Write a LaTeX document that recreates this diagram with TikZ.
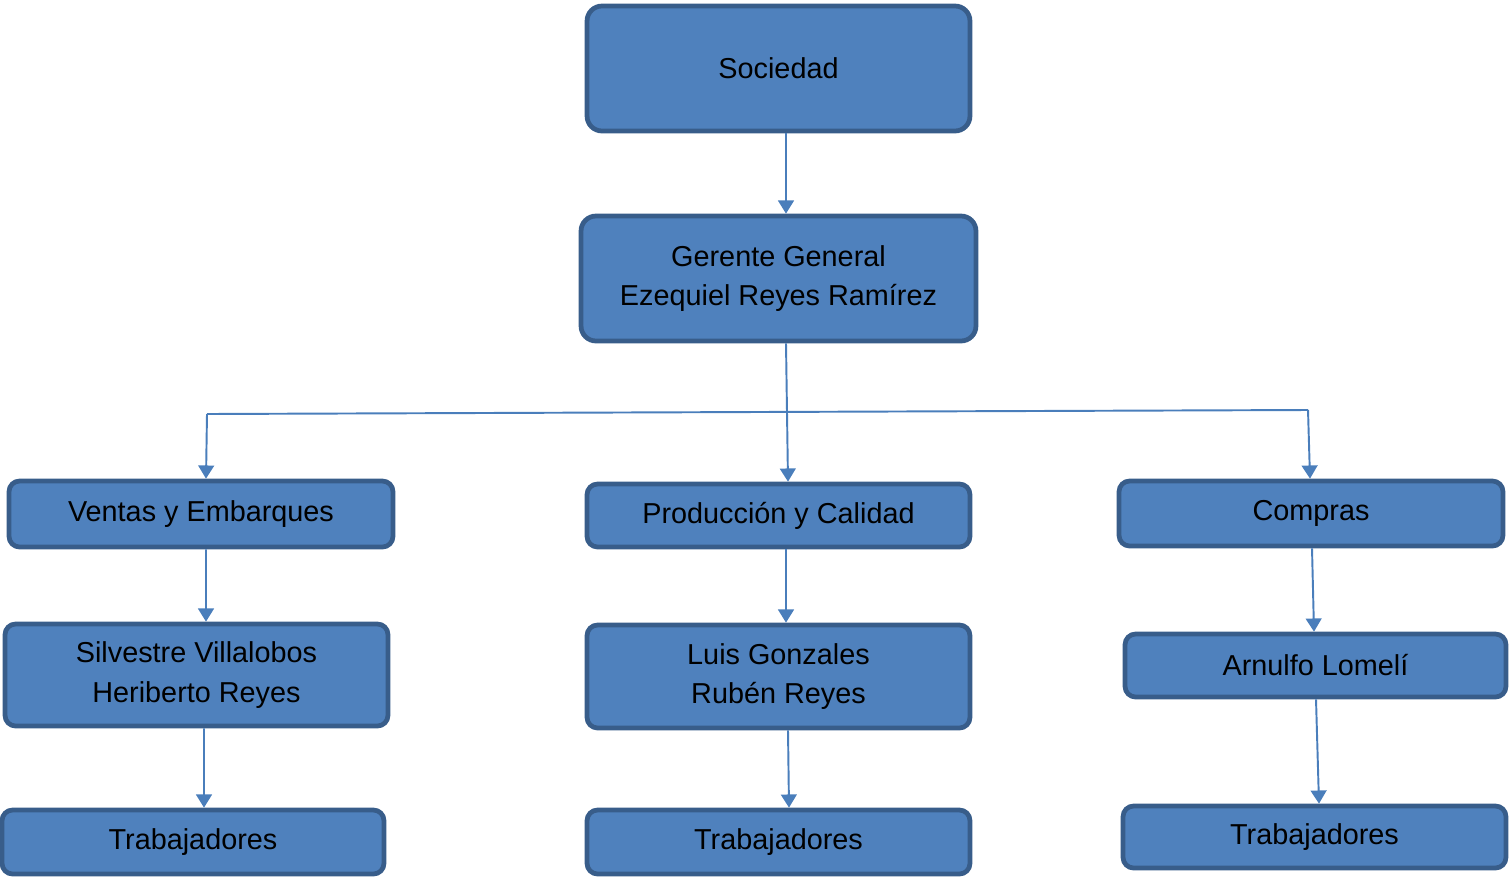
\documentclass[tikz,border=0pt]{standalone}
\usepackage{fontspec}
\setmainfont{Liberation Sans}
\usepackage{tikz}
\usetikzlibrary{arrows.meta,positioning}
\usepackage{xcolor}

\definecolor{cajaazul}{HTML}{4F81BD}
\definecolor{bordeazul}{HTML}{385D8A}
\definecolor{lineaazul}{HTML}{4A7EBB}

\tikzset{
  caja/.style={draw=bordeazul, fill=cajaazul, line width=2.7pt, rounded corners=6pt,
    align=center, inner sep=0pt, font=\fontsize{16.4}{22.7}\selectfont},
  cajagrande/.style={caja, rounded corners=8.5pt},
  linea/.style={draw=lineaazul, line width=1.1pt},
  flecha/.style={linea, -{Triangle[width=9pt,length=7.5pt]}}
}

\begin{document}
\begin{tikzpicture}[x=0.02cm,y=-0.02cm]

\useasboundingbox (0,0) rectangle (1510,876);

% niveles superiores
\node[cajagrande, minimum width=7.66cm, minimum height=2.5cm] (soc) at (778.5,68.5) {Sociedad};
\node[cajagrande, minimum width=7.9cm, minimum height=2.5cm] (ger) at (778.5,278.5) {Gerente General\\Ezequiel Reyes Ramírez};

% departamentos
\node[caja, minimum width=7.68cm, minimum height=1.32cm] (ven) at (201,514) {Ventas y Embarques};
\node[caja, minimum width=7.66cm, minimum height=1.26cm] (pro) at (778.5,515.5) {Producción y Calidad};
\node[caja, minimum width=7.68cm, minimum height=1.3cm] (com) at (1311,513.5) {Compras};

% responsables
\node[caja, minimum width=7.66cm, minimum height=2.04cm] (sil) at (196.5,675) {Silvestre Villalobos\\Heriberto Reyes};
\node[caja, minimum width=7.66cm, minimum height=2.06cm] (lui) at (778.5,676.5) {Luis Gonzales\\Rubén Reyes};
\node[caja, minimum width=7.62cm, minimum height=1.26cm] (arn) at (1315.5,665.5) {Arnulfo Lomelí};

% trabajadores
\node[caja, minimum width=7.64cm, minimum height=1.28cm] (tra1) at (193,842) {Trabajadores};
\node[caja, minimum width=7.66cm, minimum height=1.28cm] (tra2) at (778.5,842) {Trabajadores};
\node[caja, minimum width=7.66cm, minimum height=1.24cm] (tra3) at (1314.5,837) {Trabajadores};

% conexiones
\coordinate (busL) at (207,414);
\coordinate (busR) at (1308,410);

\draw[flecha] ([xshift=0.15cm]soc.south) -- ([xshift=0.15cm]ger.north);
\draw[flecha] ([xshift=0.15cm]ger.south) -- ([xshift=0.19cm]pro.north);
\draw[linea] (busL) -- (busR);
\draw[flecha] (busL) -- ([xshift=0.1cm]ven.north);
\draw[flecha] (busR) -- ([xshift=-0.02cm]com.north);

\draw[flecha] ([xshift=0.1cm]ven.south) -- ([xshift=0.19cm]sil.north);
\draw[flecha] ([xshift=0.15cm]sil.south) -- ([xshift=0.22cm]tra1.north);
\draw[flecha] ([xshift=0.15cm]pro.south) -- ([xshift=0.15cm]lui.north);
\draw[flecha] ([xshift=0.19cm]lui.south) -- ([xshift=0.21cm]tra2.north);
\draw[flecha] ([xshift=0.02cm]com.south) -- ([xshift=-0.03cm]arn.north);
\draw[flecha] ([xshift=0.01cm]arn.south) -- ([xshift=0.09cm]tra3.north);

\end{tikzpicture}
\end{document}
